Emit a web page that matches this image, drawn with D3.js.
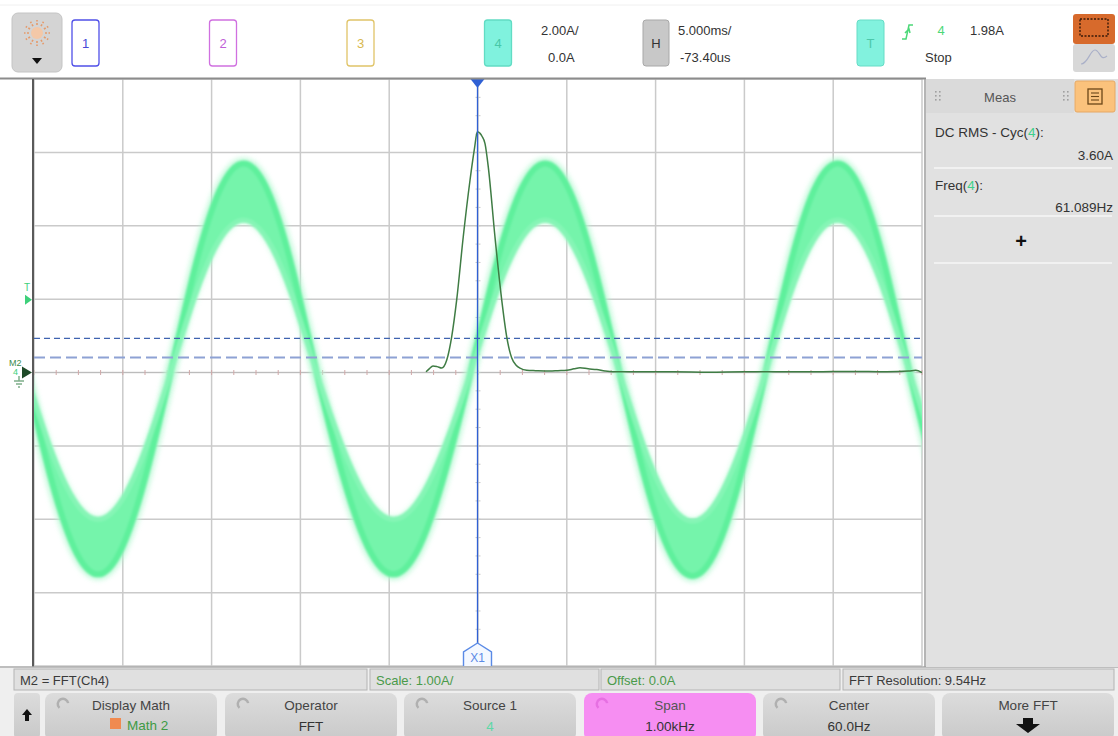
<!DOCTYPE html>
<html>
<head>
<meta charset="utf-8">
<script src="https://cdn.jsdelivr.net/npm/d3@7"></script>
<style>
body { margin: 0; background: #fff; }
svg { display: block; font-family: "Liberation Sans", Arial, sans-serif; }
</style>
</head>
<body>
<svg id="scope" width="1118" height="736"></svg>
<script>
// channel 4 current: time (ms) with the outer and inner edge of the noisy band (A)
var timeMs = [-25.48, -24.12, -22.76, -21.40, -20.03, -18.67, -17.31,
    -15.94, -14.57, -13.20, -11.83, -10.46, -9.09,
    -7.65, -6.20, -4.76, -3.31, -1.87, -0.42,
    0.98, 2.38, 3.78, 5.17, 6.57, 7.97,
    9.34, 10.71, 12.08, 13.45, 14.82, 16.19,
    17.54, 18.89, 20.25, 21.60, 22.95, 24.30, 25.67];
var outerA = [0, -2.75, -4.76, -5.50, -4.76, -2.75, 0,
    2.85, 4.94, 5.70, 4.94, 2.85, 0,
    -2.75, -4.76, -5.50, -4.76, -2.75, 0,
    2.85, 4.94, 5.70, 4.94, 2.85, 0,
    -2.78, -4.80, -5.55, -4.80, -2.78, 0,
    2.85, 4.94, 5.70, 4.94, 2.85, 0, -2.75];
var innerA = [0, -2.00, -3.46, -4.00, -3.46, -2.00, 0,
    2.08, 3.60, 4.15, 3.60, 2.08, 0,
    -2.00, -3.46, -4.00, -3.46, -2.00, 0,
    2.08, 3.60, 4.15, 3.60, 2.08, 0,
    -2.02, -3.50, -4.05, -3.50, -2.02, 0,
    2.08, 3.60, 4.15, 3.60, 2.08, 0, -2.00];

// M2 = FFT(Ch4): frequency (Hz) and magnitude (A)
var fftHz = [1.4, 5, 9.3, 14, 19.1, 24.8, 30.4, 36.0, 43.4, 51, 56, 59.2, 62.3, 64.5, 67.9, 71.6, 79.1, 86.7,
    92.3, 97.9, 103, 107.3, 114.8, 125, 141, 150, 159.9, 168, 174.9, 184, 193.7, 203, 212,
    240, 280, 320, 360, 400, 440, 480, 520, 545, 553, 560];
var fftA = [0.01, 0.05, 0.09, 0.08, 0.06, 0.17, 0.49, 0.99, 1.85, 2.62, 3.05, 3.28, 3.26, 3.22, 3.12, 2.80, 1.85, 0.99,
    0.49, 0.20, 0.10, 0.06, 0.03, 0.025, 0.02, 0.025, 0.03, 0.05, 0.065, 0.05, 0.04, 0.02, 0.01,
    0.01, 0.01, 0.005, 0.01, 0.01, 0.01, 0.015, 0.01, 0.02, 0.03, 0.0];

// horizontal dashed cursor levels (A, channel 4 scale)
var cursorLevels = [0.93, 0.41];
var triggerLevel = 1.98;

var channelLabels = ['1', '2', '3', '4'];
var infoBoxes = ['M2 = FFT(Ch4)', 'Scale: 1.00A/', 'Offset: 0.0A', 'FFT Resolution: 9.54Hz'];
var softKeyTop = ['Display Math', 'Operator', 'Source 1', 'Span', 'Center', 'More FFT'];
var softKeyBottom = ['Math 2', 'FFT', '4', '1.00kHz', '60.0Hz', ''];

var svg = d3.select('#scope');
var defs = svg.append('defs');

var L = 34, R = 922, T = 79, B = 666;

var x = d3.scaleLinear().domain([-25, 25]).range([L, R]);
var y = d3.scaleLinear().domain([-8, 8]).range([B, T]);
var fx = d3.scaleLinear().domain([-440, 560]).range([L, R]);
var fy = d3.scaleLinear().domain([-4, 4]).range([B, T]);

defs.append('clipPath').attr('id', 'plotClip')
    .append('rect').attr('x', L).attr('y', T).attr('width', R - L).attr('height', B - T);
defs.append('filter').attr('id', 'soft').attr('x', '-5%').attr('y', '-5%').attr('width', '110%').attr('height', '110%')
    .append('feGaussianBlur').attr('stdDeviation', 0.9);
defs.append('filter').attr('id', 'fuzz').attr('x', '-5%').attr('y', '-5%').attr('width', '110%').attr('height', '110%')
    .append('feGaussianBlur').attr('stdDeviation', 2.4);

var keyGrad = defs.append('linearGradient').attr('id', 'keyGrad').attr('x1', 0).attr('x2', 0).attr('y1', 0).attr('y2', 1);
keyGrad.append('stop').attr('offset', '0%').attr('stop-color', '#dcdcdc');
keyGrad.append('stop').attr('offset', '100%').attr('stop-color', '#c9c9c9');

// ---------- top bar ----------
svg.append('rect').attr('x', 0).attr('y', 0).attr('width', 1118).attr('height', 79).attr('fill', '#fff');
svg.append('line').attr('x1', 0).attr('x2', 1118).attr('y1', 5).attr('y2', 5).attr('stroke', '#f0f0f0');

svg.append('rect').attr('x', 12).attr('y', 13).attr('width', 50).attr('height', 59).attr('rx', 6)
    .attr('fill', '#d4d4d4').attr('stroke', '#c4c4c4');
var sun = svg.append('g').attr('transform', 'translate(37,33)');
sun.append('circle').attr('r', 6).attr('fill', '#f3c8a8');
d3.range(12).forEach(function (i) {
    var a = i / 12 * Math.PI * 2;
    sun.append('line').attr('x1', Math.cos(a) * 8).attr('y1', Math.sin(a) * 8)
        .attr('x2', Math.cos(a) * 13).attr('y2', Math.sin(a) * 13)
        .attr('stroke', '#e59a6a').attr('stroke-width', 1.6).attr('stroke-dasharray', '2,1.5');
});
svg.append('path').attr('d', 'M32,58 L42,58 L37,64 Z').attr('fill', '#111');

var chColors = [
    { stroke: '#5050e8', fill: '#fff', text: '#4848d8' },
    { stroke: '#d070e0', fill: '#fff', text: '#c060d8' },
    { stroke: '#e0c468', fill: '#fff', text: '#d8b850' },
    { stroke: '#62dcc4', fill: '#80f2de', text: '#48c8a8' }
];
channelLabels.forEach(function (c, i) {
    var bx = 72 + i * 137.5;
    svg.append('rect').attr('x', bx).attr('y', 20).attr('width', 27).attr('height', 46).attr('rx', 3)
        .attr('fill', chColors[i].fill).attr('stroke', chColors[i].stroke).attr('stroke-width', 1.3);
    svg.append('text').attr('x', bx + 13.5).attr('y', 48).attr('text-anchor', 'middle')
        .attr('font-size', 13).attr('fill', chColors[i].text).text(c);
});

function label(tx, ty, s, opts) {
    opts = opts || {};
    return svg.append('text').attr('x', tx).attr('y', ty)
        .attr('font-size', opts.size || 13)
        .attr('fill', opts.fill || '#333')
        .attr('text-anchor', opts.anchor || 'start')
        .attr('font-weight', opts.weight || 'normal')
        .text(s);
}

label(541, 35, '2.00A/');
label(548, 62, '0.0A');

svg.append('rect').attr('x', 643).attr('y', 20).attr('width', 26).attr('height', 46).attr('rx', 3)
    .attr('fill', '#c8c8c8').attr('stroke', '#a8a8a8');
label(656, 48, 'H', { anchor: 'middle', fill: '#333' });
label(678, 35, '5.000ms/');
label(680, 62, '-73.40us');

svg.append('rect').attr('x', 857).attr('y', 20).attr('width', 27).attr('height', 46).attr('rx', 3)
    .attr('fill', '#82f2de').attr('stroke', '#66dcc6');
label(870.5, 48, 'T', { anchor: 'middle', fill: '#4cc8aa' });
svg.append('path').attr('d', 'M902,39 L906,39 L909,25 L913,25 M905,33 L909,29 L910,33')
    .attr('fill', 'none').attr('stroke', '#4cd878').attr('stroke-width', 1.5);
label(941, 35, '4', { fill: '#4cd878', anchor: 'middle' });
label(970, 35, '1.98A');
label(925, 62, 'Stop');

svg.append('rect').attr('x', 1073).attr('y', 14).attr('width', 42).attr('height', 30).attr('rx', 3).attr('fill', '#d76a2c');
svg.append('rect').attr('x', 1080).attr('y', 19).attr('width', 28).attr('height', 17)
    .attr('fill', 'none').attr('stroke', '#3a1a08').attr('stroke-width', 1.4).attr('stroke-dasharray', '2,1.5');
svg.append('rect').attr('x', 1073).attr('y', 44).attr('width', 42).attr('height', 28).attr('rx', 3).attr('fill', '#d8d8d8');
svg.append('path').attr('d', 'M1081,64 C1088,64 1090,50 1095,50 C1100,50 1100,62 1107,56')
    .attr('fill', 'none').attr('stroke', '#aab0c8').attr('stroke-width', 1.2);

// ---------- plot area ----------
svg.append('rect').attr('x', L).attr('y', T).attr('width', R - L).attr('height', B - T).attr('fill', '#fff');

var grid = svg.append('g');
grid.selectAll('.vg').data(x.ticks(10)).enter().append('line')
    .attr('x1', function (d) { return x(d); }).attr('x2', function (d) { return x(d); })
    .attr('y1', T).attr('y2', B).attr('stroke', '#cacaca').attr('stroke-width', 1.5);
grid.selectAll('.hg').data(y.ticks(8)).enter().append('line')
    .attr('x1', L).attr('x2', R)
    .attr('y1', function (d) { return y(d); }).attr('y2', function (d) { return y(d); })
    .attr('stroke', '#cacaca').attr('stroke-width', 1.5);
grid.append('line').attr('x1', L).attr('x2', R).attr('y1', y(0)).attr('y2', y(0))
    .attr('stroke', '#bcbcbc').attr('stroke-width', 1.2);
grid.selectAll('.mt').data(d3.range(-25, 25.01, 1.25)).enter().append('line')
    .attr('x1', function (d) { return x(d); }).attr('x2', function (d) { return x(d); })
    .attr('y1', y(0) - 2.5).attr('y2', y(0) + 2.5).attr('stroke', '#d0a8a8').attr('stroke-width', 1);
grid.selectAll('.mv').data(d3.range(-8, 8.01, 0.5)).enter().append('line')
    .attr('x1', x(0) - 2.5).attr('x2', x(0) + 2.5)
    .attr('y1', function (d) { return y(d); }).attr('y2', function (d) { return y(d); })
    .attr('stroke', '#c8c8c8').attr('stroke-width', 1);

var plot = svg.append('g').attr('clip-path', 'url(#plotClip)');

var band = timeMs.map(function (t, i) { return { t: t, o: outerA[i], n: innerA[i] }; });
var outerLine = d3.line().curve(d3.curveNatural)
    .x(function (d) { return x(d.t); }).y(function (d) { return y(d.o); });
var innerLine = d3.line().curve(d3.curveNatural)
    .x(function (d) { return x(d.t); }).y(function (d) { return y(d.n); });
var bandArea = d3.area().curve(d3.curveNatural)
    .x(function (d) { return x(d.t); })
    .y0(function (d) { return y(d.o); })
    .y1(function (d) { return y(d.n); });

plot.append('path').datum(band).attr('d', outerLine)
    .attr('fill', 'none').attr('stroke', '#b6f8d2').attr('stroke-width', 12).attr('opacity', 0.8)
    .attr('filter', 'url(#fuzz)');
plot.append('path').datum(band).attr('d', innerLine)
    .attr('fill', 'none').attr('stroke', '#c4fadb').attr('stroke-width', 7).attr('opacity', 0.7)
    .attr('filter', 'url(#fuzz)');
var bandG = plot.append('g').attr('filter', 'url(#soft)');
bandG.append('path').datum(band).attr('d', bandArea).attr('fill', '#74f4ab');
bandG.append('path').datum(band).attr('d', outerLine)
    .attr('fill', 'none').attr('stroke', '#5ef09c').attr('stroke-width', 6);
bandG.append('path').datum(band).attr('d', innerLine)
    .attr('fill', 'none').attr('stroke', '#86f5b6').attr('stroke-width', 5);

// dashed level cursors
plot.append('line').attr('x1', L).attr('x2', R).attr('y1', y(cursorLevels[0])).attr('y2', y(cursorLevels[0]))
    .attr('stroke', '#3f63b0').attr('stroke-width', 1.2).attr('stroke-dasharray', '6,4');
plot.append('line').attr('x1', L).attr('x2', R).attr('y1', y(cursorLevels[1])).attr('y2', y(cursorLevels[1]))
    .attr('stroke', '#8ea2d4').attr('stroke-width', 2).attr('stroke-dasharray', '11,5');

// FFT trace
var fftData = fftHz.map(function (f, i) { return { f: f, a: fftA[i] }; });
plot.append('path').datum(fftData)
    .attr('d', d3.line().curve(d3.curveMonotoneX)
        .x(function (d) { return fx(d.f); }).y(function (d) { return fy(d.a); }))
    .attr('fill', 'none').attr('stroke', '#3f7c44').attr('stroke-width', 1.5);

// X1 cursor
var cx = fx(60) - 0.5;
svg.append('line').attr('x1', cx).attr('x2', cx).attr('y1', T + 8).attr('y2', 644)
    .attr('stroke', '#2f60d4').attr('stroke-width', 1.3);
svg.append('path').attr('d', 'M' + (cx - 7) + ',' + T + ' L' + (cx + 7) + ',' + T + ' L' + cx + ',' + (T + 9) + ' Z')
    .attr('fill', '#2f60d4');
svg.append('path').attr('d', 'M' + (cx - 14) + ',' + B + ' L' + (cx - 14) + ',652 L' + cx + ',643 L' + (cx + 14) + ',652 L' + (cx + 14) + ',' + B)
    .attr('fill', '#f4f8ff').attr('stroke', '#5a8ae6').attr('stroke-width', 1.4);
label(cx, 662, 'X1', { anchor: 'middle', fill: '#5a8ae6', size: 12 });

// frame
svg.append('line').attr('x1', 0).attr('x2', 926).attr('y1', 78.5).attr('y2', 78.5).attr('stroke', '#8c8c8c').attr('stroke-width', 2);
svg.append('line').attr('x1', 33).attr('x2', 33).attr('y1', 79).attr('y2', B + 1).attr('stroke', '#5a5a5a').attr('stroke-width', 2);
svg.append('line').attr('x1', 0).attr('x2', 1118).attr('y1', B + 1).attr('y2', B + 1).attr('stroke', '#a8a8a8').attr('stroke-width', 1.5);

// left side markers
label(27, 291, 'T', { anchor: 'middle', fill: '#3ed07a', size: 10 });
svg.append('path').attr('d', 'M25,' + (y(triggerLevel) - 5) + ' L32,' + y(triggerLevel) + ' L25,' + (y(triggerLevel) + 5) + ' Z')
    .attr('fill', '#3ed07a');
label(9, 366, 'M2', { fill: '#3a8a4a', size: 9 });
label(13, 375, '4', { fill: '#3ed07a', size: 9 });
svg.append('path').attr('d', 'M22,' + (y(0) - 6) + ' L32,' + y(0) + ' L22,' + (y(0) + 6) + ' Z').attr('fill', '#1f4a28');
svg.append('path').attr('d', 'M19,376 L19,381 M14,381 L24,381 M16,384 L22,384 M18,387 L20,387')
    .attr('stroke', '#7fae8a').attr('stroke-width', 1.5);

// ---------- right measurement panel ----------
svg.append('rect').attr('x', 926).attr('y', 79).attr('width', 192).attr('height', B - 79 + 1).attr('fill', '#e1e1e1');
svg.append('line').attr('x1', 925).attr('x2', 925).attr('y1', 79).attr('y2', B + 1).attr('stroke', '#9c9c9c').attr('stroke-width', 1.5);
svg.append('rect').attr('x', 926).attr('y', 79).attr('width', 148).attr('height', 34).attr('fill', '#dadada');
label(1000, 102, 'Meas', { anchor: 'middle', fill: '#555' });
[935, 1063].forEach(function (gx) {
    d3.range(3).forEach(function (r) {
        [0, 4].forEach(function (c) {
            svg.append('rect').attr('x', gx + c).attr('y', 91 + r * 4).attr('width', 1.6).attr('height', 1.6).attr('fill', '#a0a0a0');
        });
    });
});
svg.append('rect').attr('x', 1075).attr('y', 81).attr('width', 40).attr('height', 31).attr('rx', 2)
    .attr('fill', '#fbc27c').attr('stroke', '#e6a864');
svg.append('rect').attr('x', 1088).attr('y', 89).attr('width', 14).attr('height', 15)
    .attr('fill', 'none').attr('stroke', '#6a4618').attr('stroke-width', 1.3);
[93, 96.5, 100].forEach(function (ly) {
    svg.append('line').attr('x1', 1091).attr('x2', 1099).attr('y1', ly).attr('y2', ly).attr('stroke', '#6a4618').attr('stroke-width', 1.1);
});

function measLabel(ty, pre) {
    var t = svg.append('text').attr('x', 935).attr('y', ty).attr('font-size', 13.5).attr('fill', '#333');
    t.append('tspan').text(pre + '(');
    t.append('tspan').attr('fill', '#3ed08a').text('4');
    t.append('tspan').text('):');
}
measLabel(137, 'DC RMS - Cyc');
label(1113, 160, '3.60A', { anchor: 'end', size: 13.5 });
measLabel(190, 'Freq');
label(1113, 212, '61.089Hz', { anchor: 'end', size: 13.5 });
[168, 216, 263].forEach(function (ly) {
    svg.append('line').attr('x1', 934).attr('x2', 1112).attr('y1', ly).attr('y2', ly).attr('stroke', '#f6f6f6').attr('stroke-width', 1.5);
});
label(1021, 248, '+', { anchor: 'middle', size: 20, weight: 'bold', fill: '#111' });

// ---------- bottom softkey bar ----------
svg.append('rect').attr('x', 0).attr('y', B + 2).attr('width', 1118).attr('height', 736 - B - 2).attr('fill', '#efefef');
var infoX = [14, 370, 601, 843], infoW = [353, 229, 239, 271];
infoBoxes.forEach(function (s, i) {
    svg.append('rect').attr('x', infoX[i]).attr('y', 669).attr('width', infoW[i]).attr('height', 21)
        .attr('fill', '#e0e0e0').attr('stroke', '#b4b4b4');
    label(infoX[i] + 6, 685, s, { fill: (i === 1 || i === 2) ? '#4a9a4a' : '#3a3a3a', size: 13 });
});

svg.append('rect').attr('x', 14).attr('y', 693).attr('width', 26).attr('height', 45).attr('rx', 4).attr('fill', 'url(#keyGrad)');
svg.append('path').attr('d', 'M27,709 L32,715 L29,715 L29,721 L25,721 L25,715 L22,715 Z').attr('fill', '#111');

var keyX = [45, 225, 404, 584, 763, 942], keyW = 172;
softKeyTop.forEach(function (s, i) {
    var kx = keyX[i];
    svg.append('rect').attr('x', kx).attr('y', 693).attr('width', keyW).attr('height', 48).attr('rx', 8)
        .attr('fill', i === 3 ? '#f68ef2' : 'url(#keyGrad)');
    if (i < 5) {
        svg.append('path').attr('d', d3.arc()({ innerRadius: 4, outerRadius: 6.5, startAngle: -2.4, endAngle: 1.4 }))
            .attr('transform', 'translate(' + (kx + 18) + ',704)')
            .attr('fill', i === 3 ? '#e670e2' : '#b0b0b0');
    }
    label(kx + keyW / 2, 710, s, { anchor: 'middle', fill: i === 3 ? '#555' : '#444', size: 13.5 });
});
// second line of each key
svg.append('rect').attr('x', 110).attr('y', 718).attr('width', 11).attr('height', 11).attr('fill', '#f08a50');
label(127, 730, softKeyBottom[0], { fill: '#3e9a44', size: 13.5 });
label(keyX[1] + keyW / 2, 731, softKeyBottom[1], { anchor: 'middle', fill: '#333', size: 13.5 });
label(keyX[2] + keyW / 2, 731, softKeyBottom[2], { anchor: 'middle', fill: '#5ed8a8', size: 13.5 });
label(keyX[3] + keyW / 2, 731, softKeyBottom[3], { anchor: 'middle', fill: '#333', size: 13.5 });
label(keyX[4] + keyW / 2, 731, softKeyBottom[4], { anchor: 'middle', fill: '#333', size: 13.5 });
var ax = keyX[5] + keyW / 2;
svg.append('path').attr('d', 'M' + (ax - 5) + ',718 L' + (ax + 5) + ',718 L' + (ax + 5) + ',724 L' + (ax + 12) + ',724 L' + ax + ',733 L' + (ax - 12) + ',724 L' + (ax - 5) + ',724 Z')
    .attr('fill', '#111');
</script>
</body>
</html>
